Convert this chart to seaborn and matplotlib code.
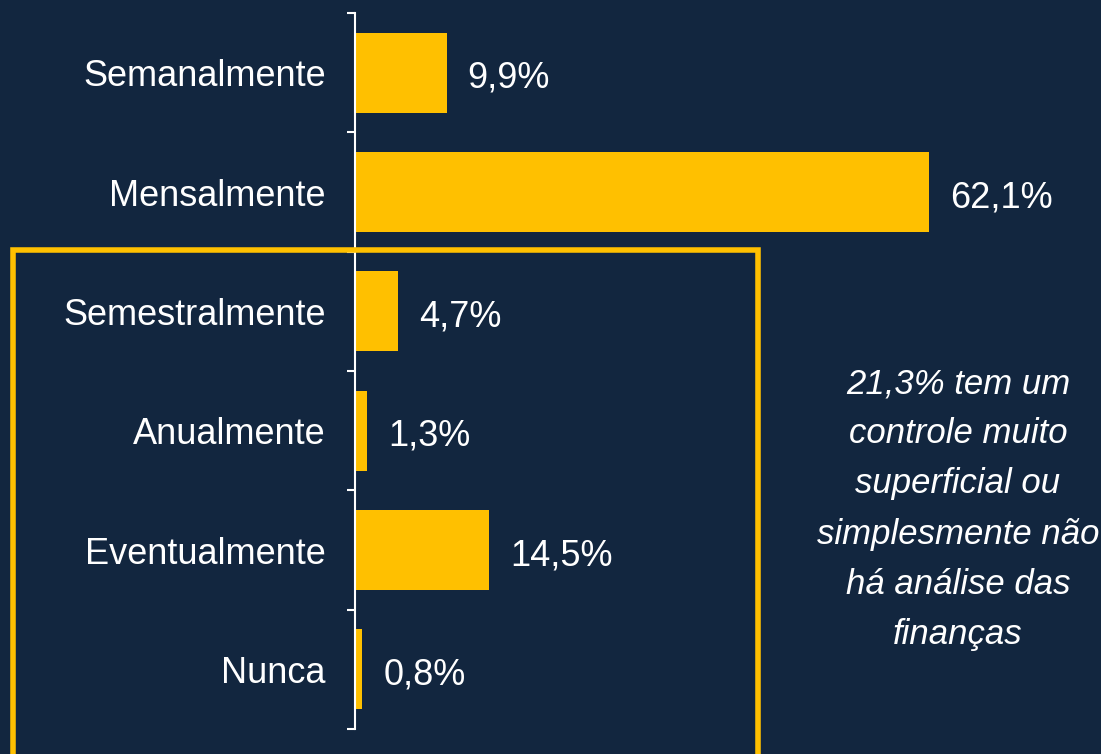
import matplotlib
matplotlib.use("Agg")
import matplotlib.pyplot as plt
import matplotlib.patches as patches
import seaborn as sns
import pandas as pd
import numpy as np

# --- data ---
categories = ["Semanalmente", "Mensalmente", "Semestralmente", "Anualmente", "Eventualmente", "Nunca"]
values = [9.9, 62.1, 4.7, 1.3, 14.5, 0.8]
note = "21,3% tem um\ncontrole muito\nsuperficial ou\nsimplesmente não\nhá análise das\nfinanças"

BG = "#12263f"
BAR = "#ffc000"

sns.set_style("white")
plt.rcParams["font.family"] = ["Liberation Sans", "DejaVu Sans"]

df = pd.DataFrame({"categoria": categories, "valor": values})

fig = plt.figure(figsize=(11.01, 7.54), dpi=100, facecolor=BG)
ax = fig.add_axes([355 / 1101, 25 / 754, 647 / 1101, 716 / 754])
ax.set_facecolor(BG)

sns.barplot(data=df, x="valor", y="categoria", orient="h", color=BAR,
            width=0.67, saturation=1, linewidth=0, ax=ax)

ax.set_xlim(0, 70)
ax.set_ylim(5.5, -0.5)
ax.set_xlabel("")
ax.set_ylabel("")
ax.set_xticks([])

for side in ["top", "right", "bottom"]:
    ax.spines[side].set_visible(False)
ax.spines["left"].set_color("white")
ax.spines["left"].set_linewidth(1.5)

# category boundary ticks
ax.set_yticks(np.arange(-0.5, 6, 1), minor=True)
ax.tick_params(axis="y", which="minor", left=True, length=6, width=1.5, color="white", direction="out")
ax.tick_params(axis="y", which="major", left=True, length=0, pad=21, labelsize=26, labelcolor="white")

labels = [f"{v:.1f}%".replace(".", ",") for v in values]
texts = ax.bar_label(ax.containers[0], labels=labels, padding=15, fontsize=26, color="white")
for t in texts:
    t.set_y(-4)

# highlight box around the low-frequency answers
rect = patches.Rectangle((12.5 / 1101, -0.05), (758 - 12.5) / 1101, (754 - 250) / 754 + 0.05,
                         transform=fig.transFigure, fill=False, edgecolor=BAR, linewidth=4,
                         clip_on=False)
fig.patches.append(rect)

fig.text(958 / 1101, 1 - 509 / 754, note, ha="center", va="center", fontsize=25,
         style="italic", color="white", linespacing=1.66)

fig.savefig("out.png", dpi=100, facecolor=BG)
